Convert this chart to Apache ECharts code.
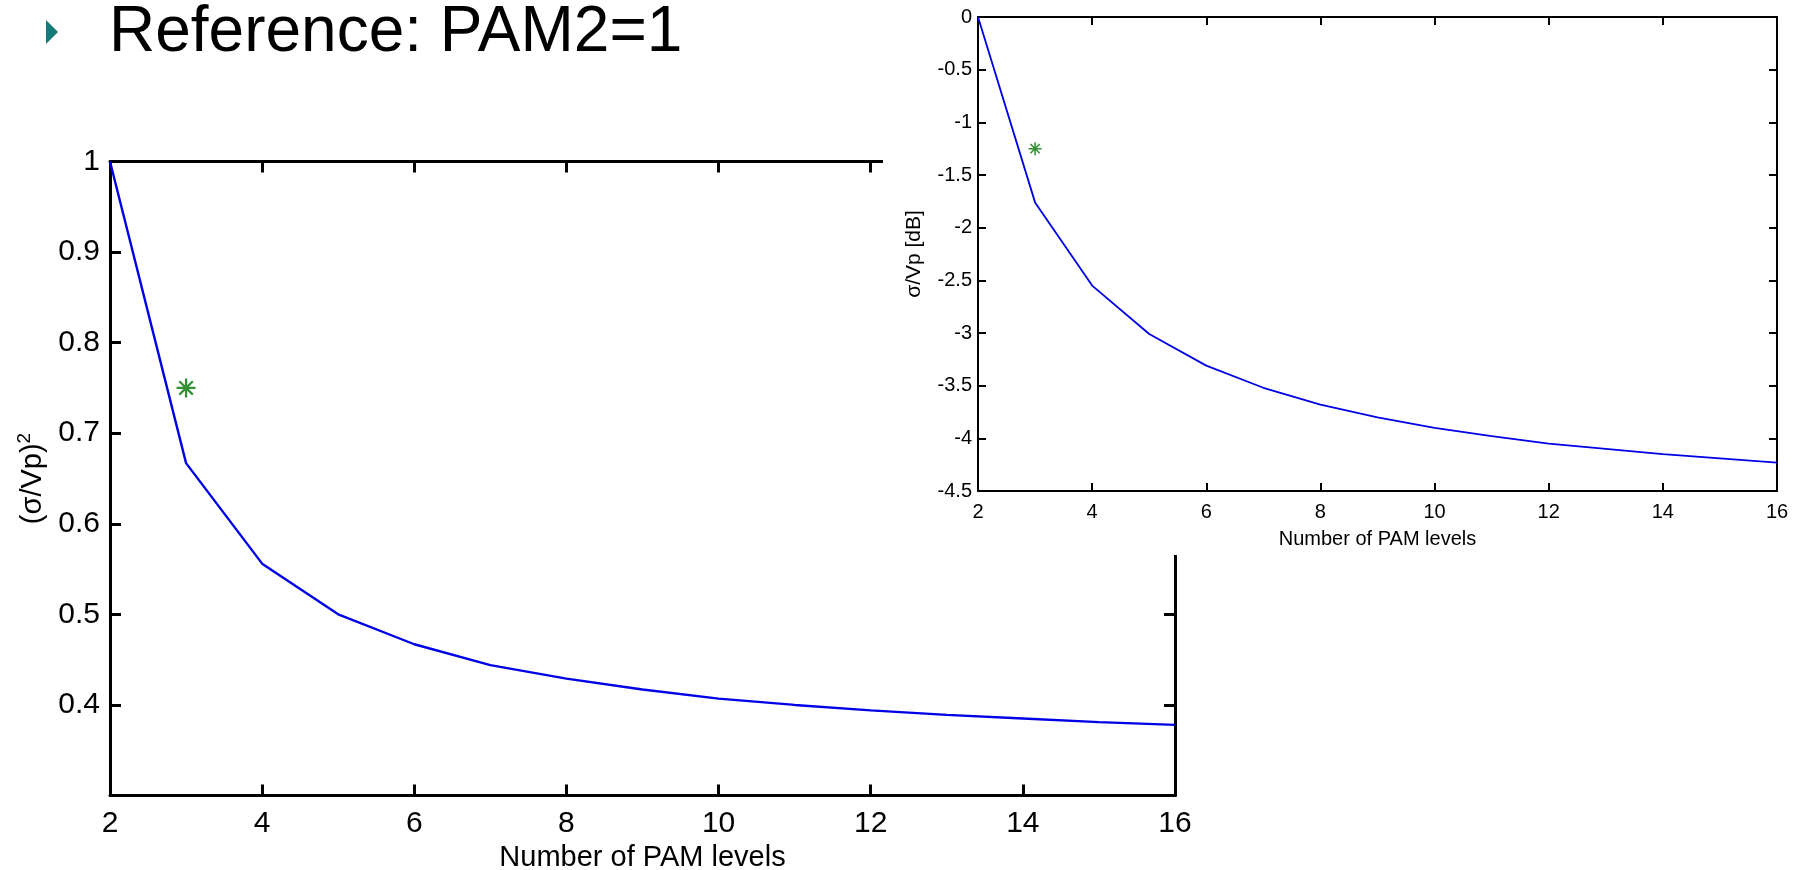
<!DOCTYPE html>
<html>
<head>
<meta charset="utf-8">
<script src="https://cdn.jsdelivr.net/npm/echarts@6/dist/echarts.min.js"></script>
<style>
  html, body { margin: 0; padding: 0; background: #fff; }
  #main { width: 1798px; height: 870px; }
</style>
</head>
<body>
<div id="main"></div>
<script>
// number of PAM levels on the x axis
var pamLevels = [2, 3, 4, 5, 6, 7, 8, 9, 10, 11, 12, 13, 14, 15, 16];
// (sigma/Vp)^2, big plot
var noisePower = [1, 0.667, 0.556, 0.5, 0.467, 0.444, 0.429, 0.417, 0.407, 0.4, 0.394, 0.389, 0.385, 0.381, 0.378];
// sigma/Vp in dB, inset
var noiseDb = [0, -1.76, -2.55, -3.01, -3.31, -3.52, -3.68, -3.80, -3.90, -3.98, -4.05, -4.10, -4.15, -4.19, -4.23];
// green star marker (x, y)
var refPower = [3, 0.75];
var refDb = [3, -1.25];

var xRange = { min: 2, max: 16, interval: 2 };
var powerRange = { min: 0.3, max: 1, interval: 0.1 };
var dbRange = { min: -4.5, max: 0, interval: 0.5 };

var font = "'Liberation Sans', Arial, sans-serif";
var star = 'path://M0 44L100 44L100 56L0 56Z M44 0L56 0L56 100L44 100Z ' +
    'M10.4 18.88L18.88 10.4L89.6 81.12L81.12 89.6Z M18.88 89.6L10.4 81.12L81.12 10.4L89.6 18.88Z';

function pairs(xs, ys) {
    return xs.map(function (x, i) { return [x, ys[i]]; });
}

function axis(range, opt) {
    var a = {
        type: 'value',
        min: range.min,
        max: range.max,
        interval: range.interval,
        gridIndex: opt.grid,
        position: opt.position,
        z: opt.z,
        axisLine: { show: true, onZero: false, lineStyle: { color: '#000', width: opt.lw } },
        axisTick: { show: true, inside: true, length: opt.tick, lineStyle: { color: '#000', width: opt.lw } },
        splitLine: { show: false },
        axisLabel: {
            show: !!opt.labels,
            margin: opt.margin,
            color: '#000',
            fontFamily: font,
            fontSize: opt.fs,
            showMinLabel: opt.showMin !== false
        }
    };
    if (opt.name) {
        a.name = opt.name;
        a.nameLocation = 'middle';
        a.nameGap = opt.nameGap;
        a.nameTextStyle = opt.nameStyle;
    }
    return a;
}

var myChart = echarts.init(document.getElementById('main'));
var option = {
    backgroundColor: '#fff',
    animation: false,
    title: {
        text: 'Reference: PAM2=1',
        left: 109,
        top: 1,
        padding: 0,
        textStyle: { fontFamily: font, fontSize: 64, fontWeight: 'normal', color: '#000' }
    },
    graphic: [
        {
            type: 'polygon',
            shape: { points: [[46, 20], [58, 32], [46, 44]] },
            style: { fill: '#137b7b' }
        },
        {
            // white area of the pasted inset figure
            type: 'rect',
            z: 5,
            shape: { x: 883, y: 0, width: 915, height: 555 },
            style: { fill: '#fff' }
        }
    ],
    grid: [
        { left: 110, top: 161.5, width: 1065, height: 634, outerBoundsMode: 'none', containLabel: false },
        { left: 978, top: 17, width: 799, height: 474, outerBoundsMode: 'none', containLabel: false }
    ],
    xAxis: [
        axis(xRange, {
            grid: 0, position: 'bottom', z: 0, lw: 3, tick: 11, labels: true, margin: 13, fs: 30,
            name: 'Number of PAM levels', nameGap: 46,
            nameStyle: { fontFamily: font, fontSize: 29, color: '#000' }
        }),
        axis(xRange, { grid: 0, position: 'top', z: 0, lw: 3, tick: 11 }),
        axis(xRange, {
            grid: 1, position: 'bottom', z: 10, lw: 2, tick: 8, labels: true, margin: 11, fs: 20,
            name: 'Number of PAM levels', nameGap: 38,
            nameStyle: { fontFamily: font, fontSize: 20, color: '#000' }
        }),
        axis(xRange, { grid: 1, position: 'top', z: 10, lw: 2, tick: 8 })
    ],
    yAxis: [
        axis(powerRange, {
            grid: 0, position: 'left', z: 0, lw: 3, tick: 11, labels: true, margin: 10, fs: 30, showMin: false,
            name: '(σ/Vp){sup|2}', nameGap: 52,
            nameStyle: {
                fontFamily: font, fontSize: 29, color: '#000',
                rich: { sup: { fontFamily: font, fontSize: 19, color: '#000', verticalAlign: 'top', padding: [0, 0, 16, 0] } }
            }
        }),
        axis(powerRange, { grid: 0, position: 'right', z: 0, lw: 3, tick: 11 }),
        axis(dbRange, {
            grid: 1, position: 'left', z: 10, lw: 2, tick: 8, labels: true, margin: 6, fs: 20,
            name: 'σ/Vp [dB]', nameGap: 53,
            nameStyle: { fontFamily: font, fontSize: 21, color: '#000' }
        }),
        axis(dbRange, { grid: 1, position: 'right', z: 10, lw: 2, tick: 8 })
    ],
    series: [
        {
            type: 'line',
            xAxisIndex: 0,
            yAxisIndex: 0,
            data: pairs(pamLevels, noisePower),
            showSymbol: false,
            lineStyle: { color: '#0000e8', width: 2.4 },
            z: 2
        },
        {
            type: 'scatter',
            xAxisIndex: 0,
            yAxisIndex: 0,
            data: [refPower],
            symbol: star,
            symbolSize: 19,
            itemStyle: { color: '#007400' },
            z: 3
        },
        {
            type: 'line',
            xAxisIndex: 2,
            yAxisIndex: 2,
            data: pairs(pamLevels, noiseDb),
            showSymbol: false,
            lineStyle: { color: '#0000e8', width: 1.8 },
            z: 12
        },
        {
            type: 'scatter',
            xAxisIndex: 2,
            yAxisIndex: 2,
            data: [refDb],
            symbol: star,
            symbolSize: 13,
            itemStyle: { color: '#007400' },
            z: 13
        }
    ]
};

myChart.setOption(option);
</script>
</body>
</html>
